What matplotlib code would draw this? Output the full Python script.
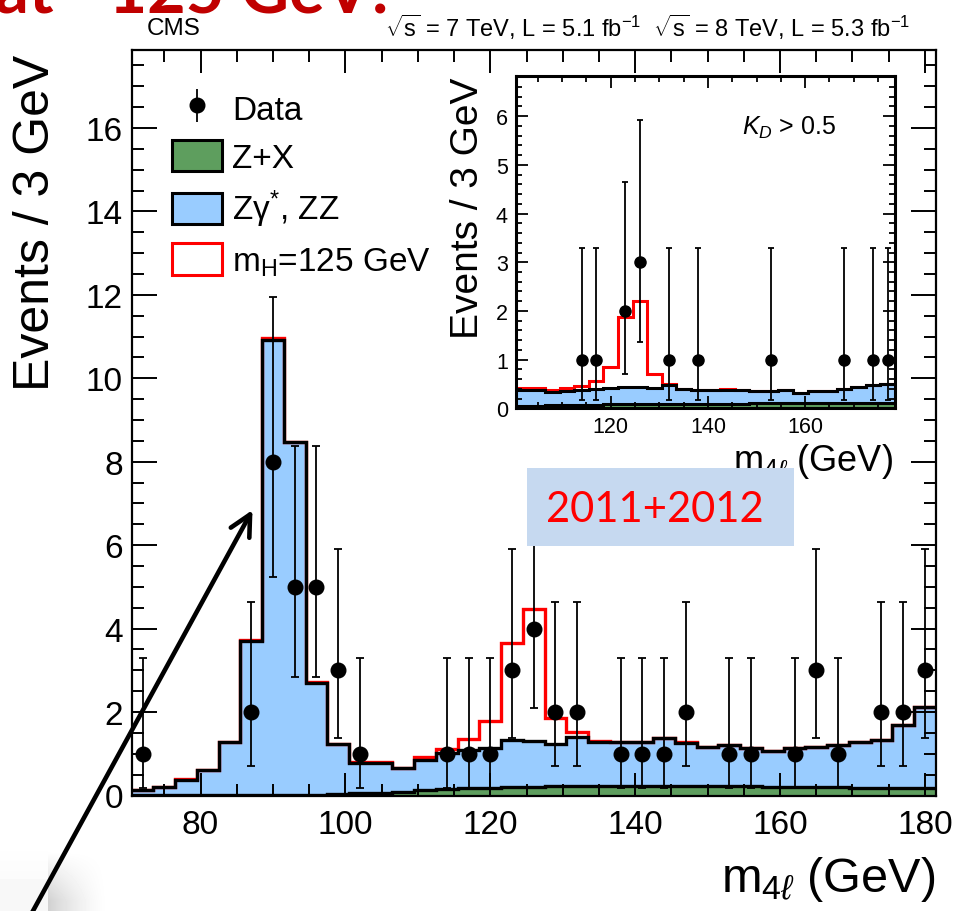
import numpy as np
import matplotlib
matplotlib.use("Agg")
import matplotlib.pyplot as plt
from matplotlib.patches import Patch, Rectangle, FancyArrowPatch
from matplotlib.ticker import MultipleLocator

plt.rcParams['font.family'] = ['Liberation Sans', 'DejaVu Sans']
plt.rcParams['mathtext.fontset'] = 'custom'
plt.rcParams['mathtext.rm'] = 'Liberation Sans'
plt.rcParams['mathtext.it'] = 'Liberation Sans:italic'
plt.rcParams['mathtext.bf'] = 'Liberation Sans:bold'
plt.rcParams['mathtext.fallback'] = 'cm'

# ---------------- data: main plot (3 GeV bins, 70.5 - 181.5 GeV) ----------------
main_edges = np.arange(70.5, 181.6, 3.0)
main_zx = [0.005, 0.005, 0.005, 0.005, 0.005, 0.005, 0.01, 0.01, 0.02, 0.03,
           0.05, 0.07, 0.09, 0.12, 0.15, 0.17, 0.19, 0.20, 0.21, 0.22,
           0.23, 0.23, 0.23, 0.23, 0.23, 0.23, 0.23, 0.22, 0.22, 0.21,
           0.21, 0.20, 0.20, 0.19, 0.18, 0.18, 0.17]
main_bkg_total = [0.12, 0.21, 0.37, 0.60, 1.28, 3.70, 10.92, 8.48, 2.70, 1.24,
                  0.78, 0.78, 0.66, 0.84, 1.02, 1.10, 1.15, 1.33, 1.30, 1.24,
                  1.40, 1.28, 1.28, 1.28, 1.38, 1.25, 1.17, 1.22, 1.14, 1.06,
                  1.13, 1.16, 1.20, 1.29, 1.34, 1.69, 2.13]
main_signal = [0.0, 0.0, 0.02, 0.0, 0.0, 0.03, 0.05, 0.0, 0.02, 0.0,
               0.03, 0.03, 0.0, 0.09, 0.10, 0.26, 0.63, 2.33, 3.16, 0.61,
               0.12, 0.02, 0.0, 0.0, 0.0, 0.03, 0.0, 0.0, 0.0, 0.0,
               0.0, 0.0, 0.0, 0.0, 0.0, 0.0, 0.0]
data_mass = [72, 87, 90, 93, 96, 99, 102, 114, 117, 120, 123, 126, 129, 132,
             138, 141, 144, 147, 153, 156, 162, 165, 168, 174, 177, 180]
data_counts = [1, 2, 8, 5, 5, 3, 1, 1, 1, 1, 3, 4, 2, 2,
               1, 1, 1, 2, 1, 1, 1, 3, 1, 2, 2, 3]
# error bar extents (lower, upper) by count
count_err_low = {1: 0.83, 2: 1.29, 3: 1.63, 4: 1.91, 5: 2.16, 8: 2.77}
count_err_high = {1: 2.30, 2: 2.64, 3: 2.92, 4: 3.16, 5: 3.38, 8: 3.95}

# ---------------- data: inset (K_D > 0.5), 100.5 - 178.5 GeV ----------------
inset_edges = np.arange(100.5, 178.6, 3.0)
inset_zx = [0.05, 0.05, 0.06, 0.06, 0.07, 0.07, 0.08, 0.08, 0.08, 0.09,
            0.09, 0.09, 0.09, 0.09, 0.09, 0.09, 0.10, 0.10, 0.10, 0.10,
            0.10, 0.10, 0.10, 0.10, 0.11, 0.11]
inset_bkg_total = [0.38, 0.38, 0.34, 0.36, 0.38, 0.40, 0.41, 0.43, 0.43, 0.41,
                   0.47, 0.40, 0.38, 0.38, 0.38, 0.38, 0.36, 0.36, 0.37, 0.31,
                   0.36, 0.36, 0.40, 0.43, 0.47, 0.49]
inset_signal = [0.03, 0.03, 0.04, 0.06, 0.07, 0.17, 0.43, 1.45, 1.78, 0.29,
                0.02, 0.0, 0.0, 0.0, 0.02, 0.0, 0.0, 0.0, 0.0, 0.0,
                0.0, 0.0, 0.0, 0.0, 0.0, 0.0]
inset_mass = [114, 117, 123, 126, 132, 138, 153, 168, 174, 177]
inset_counts = [1, 1, 2, 3, 1, 1, 1, 1, 1, 1]

BLUE = '#99CCFF'
GREEN = '#5E9E5E'

W, H = 957, 912
def fx(px):
    return px / W
def fy(py):
    return 1 - py / H

fig = plt.figure(figsize=(W / 100, H / 100), dpi=100)

# ---------------- main axes ----------------
ax = fig.add_axes([fx(131.7), fy(796.5), (935.8 - 131.7) / W, (796.5 - 51) / H])
ax.set_xlim(70.5, 181.5)
ax.set_ylim(0, 17.87)

bkg = np.array(main_bkg_total)
ax.stairs(bkg, main_edges, fill=True, color=BLUE, zorder=1.0)
ax.stairs(main_zx, main_edges, fill=True, color=GREEN, zorder=1.1)
ax.stairs(bkg + np.array(main_signal), main_edges, color='red', lw=2.4,
          baseline=None, zorder=1.5)
ax.stairs(bkg, main_edges, color='black', lw=2.4, baseline=None, zorder=1.6)
ax.stairs(main_zx, main_edges, color='black', lw=2.4, baseline=None, zorder=1.6)

lo = [count_err_low[c] for c in data_counts]
hi = [count_err_high[c] for c in data_counts]
ax.errorbar(data_mass, data_counts, yerr=[lo, hi], fmt='o', color='black',
            ms=10.5, elinewidth=1.3, capsize=2.6, capthick=1.3, zorder=5)

ax.set_axisbelow(False)
ax.xaxis.set_major_locator(MultipleLocator(20))
ax.xaxis.set_minor_locator(MultipleLocator(5))
ax.yaxis.set_major_locator(MultipleLocator(2))
ax.yaxis.set_minor_locator(MultipleLocator(0.5))
ax.tick_params(which='both', direction='in', top=True, right=True, width=1.4,
               labelsize=24, colors='black')
ax.tick_params(axis='x', which='major', length=16.5, pad=10)
ax.tick_params(axis='x', which='minor', length=8.5)
ax.tick_params(axis='y', which='major', length=18, pad=6.3)
ax.tick_params(axis='y', which='minor', length=8.5)
for s in ax.spines.values():
    s.set_linewidth(1.6)
    s.set_zorder(4)

ax.legend(handles=[
    ax.errorbar([], [], yerr=[], fmt='o', color='black', ms=10.5, elinewidth=1.3,
                capsize=2.6, capthick=1.3),
    Patch(facecolor=GREEN, edgecolor='black', lw=2.2),
    Patch(facecolor=BLUE, edgecolor='black', lw=2.2),
    Patch(facecolor='white', edgecolor='red', lw=2.2)],
    labels=['Data', 'Z+X', 'Zγ$^{*}$, ZZ', r'm$_{\mathrm{H}}$=125 GeV'],
    loc='upper left', bbox_to_anchor=(fx(171.7), fy(93)),
    bbox_transform=fig.transFigure, frameon=False, fontsize=24,
    borderpad=0, borderaxespad=0, handlelength=1.52, handleheight=1.06,
    handletextpad=0.3, labelspacing=0.42)

# ---------------- inset ----------------
axi = fig.add_axes([fx(516), fy(409.3), (895 - 516) / W, (409.3 - 77.3) / H])
axi.set_xlim(100.5, 178.5)
axi.set_ylim(0, 6.82)
ibkg = np.array(inset_bkg_total)
axi.stairs(ibkg, inset_edges, fill=True, color=BLUE, zorder=1.0)
axi.stairs(inset_zx, inset_edges, fill=True, color=GREEN, zorder=1.1)
axi.stairs(ibkg + np.array(inset_signal), inset_edges, color='red', lw=2.2,
           baseline=None, zorder=1.5)
axi.stairs(ibkg, inset_edges, color='black', lw=2.2, baseline=None, zorder=1.6)
axi.stairs(inset_zx, inset_edges, color='black', lw=2.2, baseline=None, zorder=1.6)
ilo = [count_err_low[c] for c in inset_counts]
ihi = [count_err_high[c] for c in inset_counts]
axi.errorbar(inset_mass, inset_counts, yerr=[ilo, ihi], fmt='o', color='black',
             ms=8, elinewidth=1.3, capsize=2.2, capthick=1.3, zorder=5)
axi.set_axisbelow(False)
axi.xaxis.set_major_locator(MultipleLocator(20))
axi.xaxis.set_minor_locator(MultipleLocator(5))
axi.yaxis.set_major_locator(MultipleLocator(1))
axi.yaxis.set_minor_locator(MultipleLocator(0.2))
axi.tick_params(which='both', direction='in', top=True, right=True, width=1.3,
                labelsize=15.5)
axi.tick_params(which='major', length=8.6, pad=5.8)
axi.tick_params(which='minor', length=4.3)
for s in axi.spines.values():
    s.set_linewidth(2.2)
    s.set_zorder(4)
fig.text(fx(742), fy(128), r'$K_{D}$ > 0.5', fontsize=18, ha='left', va='center')

# ---------------- texts ----------------
fig.text(fx(36), fy(55), 'Events / 3 GeV', rotation=90, ha='center', va='top', fontsize=36)
fig.text(fx(935), fy(880), r'm$_{4\ell}$ (GeV)', ha='right', va='center', fontsize=35)
fig.text(fx(468), fy(78), 'Events / 3 GeV', rotation=90, ha='center', va='top', fontsize=28)
fig.text(fx(893), fy(462), r'm$_{4\ell}$ (GeV)', ha='right', va='center', fontsize=26)
fig.text(fx(147), fy(29), 'CMS', ha='left', va='center', fontsize=17.5)
fig.text(fx(910), fy(27),
         r'$\sqrt{\mathrm{s}}$ = 7 TeV, L = 5.1 fb$^{-1}$  $\sqrt{\mathrm{s}}$ = 8 TeV, L = 5.3 fb$^{-1}$',
         ha='right', va='center', fontsize=17)

fig.text(fx(390), fy(14), 'at ~125 GeV!', ha='right', va='baseline', fontsize=48,
         color='#C00000', fontweight='bold', family=['Lato', 'DejaVu Sans'])

# 2011+2012 box
fig.add_artist(Rectangle((fx(527.3), fy(546.7)), (794 - 527.3) / W, (546.7 - 469.3) / H,
                         transform=fig.transFigure, facecolor='#C6D9F0',
                         edgecolor='none', zorder=10))
fig.text(fx(655), fy(510), '2011+2012', ha='center', va='center', fontsize=30,
         color='#FF0000', family=['Lato', 'DejaVu Sans'], zorder=11)

# bottom-left shadow
gx = np.linspace(0, 120, 120)
gy = np.linspace(842, 912, 70)
GX, GY = np.meshgrid(gx, gy)
shade = 0.18 * np.clip(1 - (GX - 48) / 62, 0, 1) ** 1.5 * np.clip((GY - 852) / 50, 0, 1)
shade = np.where(GX < 48, np.where(GY > 880, 0.03, 0.015 * np.clip((GY - 842) / 38, 0, 1)), shade)
axg = fig.add_axes([0, 0, 120 / W, 70 / H], zorder=-1)
axg.imshow(1 - shade, cmap='gray', vmin=0, vmax=1, aspect='auto',
           extent=(0, 120, 912, 842), interpolation='bilinear')
axg.set_axis_off()

# arrow
arr = FancyArrowPatch((fx(28), fy(921)), (fx(252.5), fy(511)), transform=fig.transFigure,
                      arrowstyle='->,head_length=0.75,head_width=0.38', mutation_scale=20,
                      lw=3.3, color='black', shrinkA=0, shrinkB=0, zorder=12)
fig.add_artist(arr)

fig.savefig('out.png', dpi=100)
